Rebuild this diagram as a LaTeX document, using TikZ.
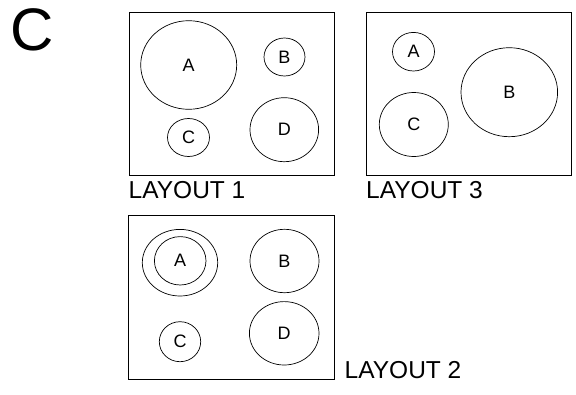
\documentclass[tikz,border=0pt]{standalone}
\usepackage{fontspec}
\setmainfont{Liberation Sans}
\usetikzlibrary{shapes.geometric}

\begin{document}
\begin{tikzpicture}[x=1pt,y=-1pt,
    hob/.style={draw,ellipse,inner sep=0pt,line width=0.7pt,font=\fontsize{18}{20}\selectfont},
    panel/.style={draw,line width=0.8pt},
    caption/.style={anchor=base west,inner sep=0pt,font=\fontsize{24.5}{27}\selectfont}]
  \useasboundingbox (0,0) rectangle (576,394);
  \node[inner sep=0pt,font=\fontsize{60}{66}\selectfont] (bigc) at (32.2,29.5) {C};
  % layout 1
  \draw[panel] (129,12) rectangle (334,175);
  \node[hob,minimum width=96,minimum height=88.6] (a1) at (188.7,65) {A};
  \node[hob,minimum width=41,minimum height=38] (b1) at (284.5,57) {B};
  \node[hob,minimum width=42,minimum height=38] (c1) at (188.5,137.5) {C};
  \node[hob,minimum width=68.6,minimum height=64] (d1) at (284.3,129.7) {D};
  \node[caption] (l1) at (128.5,198) {LAYOUT 1};
  % layout 3
  \draw[panel] (366,12) rectangle (571,175);
  \node[hob,minimum width=42,minimum height=38.6] (a3) at (413.5,51.7) {A};
  \node[hob,minimum width=96.6,minimum height=89] (b3) at (509.3,92.2) {B};
  \node[hob,minimum width=69,minimum height=64] (c3) at (413.8,124.5) {C};
  \node[caption] (l3) at (366,198) {LAYOUT 3};
  % layout 2
  \draw[panel] (128.3,215.7) rectangle (334,379);
  \node[hob,minimum width=75.4,minimum height=66.6] (a2o) at (180,262.7) {};
  \node[hob,minimum width=51.6,minimum height=48.4] (a2) at (180.2,260.8) {A};
  \node[hob,minimum width=69,minimum height=63.4] (b2) at (284.5,261) {B};
  \node[hob,minimum width=41.4,minimum height=40] (c2) at (180,341.7) {C};
  \node[hob,minimum width=69.6,minimum height=63.4] (d2) at (284.2,333.3) {D};
  \node[caption] (l2) at (344.5,378.3) {LAYOUT 2};
\end{tikzpicture}
\end{document}
